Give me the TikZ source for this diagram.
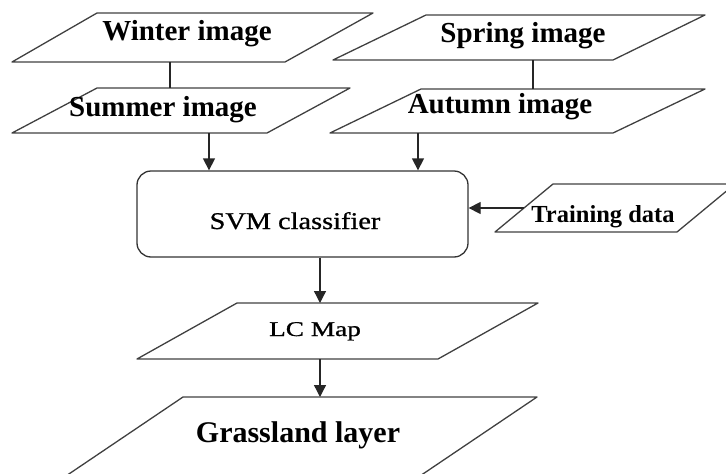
\documentclass[tikz,border=0pt]{standalone}
\usepackage{fontspec}
\usepackage{graphicx}
\setmainfont{Liberation Serif}
\newfontfamily\heavyserif[FakeBold=0.8]{Liberation Serif}
\usetikzlibrary{arrows.meta}
\tikzset{
  para/.style={draw=black!75, line width=1.3pt, line join=round},
  conn/.style={draw=black!85, line width=1.3pt},
  arr/.style={conn, -{Triangle[width=12pt,length=12pt]}},
  big/.style={font=\bfseries\fontsize{29}{29}\selectfont, inner sep=0pt, anchor=base},
  mid/.style={font=\bfseries\fontsize{24.5}{24.5}\selectfont, inner sep=0pt, anchor=base},
  plain/.style={font=\heavyserif\fontsize{24}{24}\selectfont, inner sep=0pt, anchor=base},
  svmbox/.style={draw=black!80, line width=1.3pt, rounded corners=14pt, minimum width=331pt, minimum height=86pt, inner sep=0pt}
}
\begin{document}
\begin{tikzpicture}[x=1pt,y=-1pt]
\useasboundingbox (0,0) rectangle (726,474);
\clip (0,0) rectangle (726,474);
% shapes
\draw[para] (12,62) -- (97,13) -- (373,13) -- (285,62) -- cycle;
\draw[para] (333,60) -- (426,15) -- (705,15) -- (613,60) -- cycle;
\draw[para] (12,133) -- (97,88) -- (350,88) -- (267,133) -- cycle;
\draw[para] (330,133) -- (421,89) -- (705,89) -- (613,133) -- cycle;
\draw[para] (495,232) -- (553,184) -- (735,184) -- (677,232) -- cycle;
\draw[para] (137,359) -- (237,303) -- (538,303) -- (438,359) -- cycle;
\draw[para] (60,480) -- (183,397) -- (537,397) -- (414,480) -- cycle;
\node[svmbox] (svm) at (302.5,214) {};
% texts
\node[big] (winter) at (187,40) {Winter image};
\node[big] (spring) at (523,42) {Spring image};
\node[big] (summer) at (163,116) {Summer image};
\node[big] (autumn) at (500,113) {Autumn image};
\node[mid] (training) at (603,222) {Training data};
\node[plain] (svmtext) at (295,229) {\scalebox{1.18}[1]{SVM classifier}};
\node[plain, font=\heavyserif\fontsize{21}{21}\selectfont] (lcmap) at (315,336) {\scalebox{1.3}[1]{LC Map}};
\node[big, font=\bfseries\fontsize{30}{30}\selectfont] (grass) at (298,442) {Grassland layer};
% connection points
\coordinate (winterB) at (170,62);
\coordinate (summerT) at (170,88);
\coordinate (springB) at (533,60);
\coordinate (autumnT) at (533,89);
\coordinate (summerB) at (209,133);
\coordinate (autumnB) at (418,133);
\coordinate (trainL) at (524,208);
\coordinate (lcT) at (320,303);
\coordinate (lcB) at (320,359);
\coordinate (grassT) at (320,397);
% connectors
\draw[conn] (winterB) -- (summerT);
\draw[conn] (springB) -- (autumnT);
\draw[arr] (summerB) -- (summerB |- svm.north);
\draw[arr] (autumnB) -- (autumnB |- svm.north);
\draw[arr] (trainL) -- (trainL -| svm.east);
\draw[arr] (lcT |- svm.south) -- (lcT);
\draw[arr] (lcB) -- (grassT);
\end{tikzpicture}
\end{document}
